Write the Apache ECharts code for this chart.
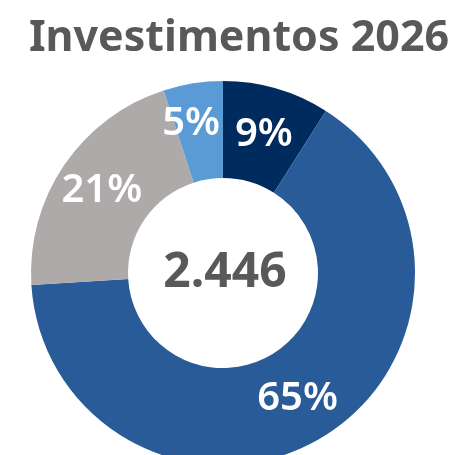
<!DOCTYPE html>
<html>
<head>
<meta charset="utf-8">
<script src="https://cdn.jsdelivr.net/npm/echarts@6/dist/echarts.min.js"></script>
<style>
  html, body { margin: 0; padding: 0; background: #fff; }
  #chart { width: 470px; height: 455px; }
</style>
</head>
<body>
<div id="chart"></div>
<script>
// Investment split for 2026 (share of total, %)
const categories = ['Categoria A', 'Categoria B', 'Categoria C', 'Categoria D'];
const shares = [9, 65, 21, 5];
const sliceColors = ['#002B5E', '#2A5B99', '#AEAAAA', '#5B9BD5'];
const totalLabel = '2.446';
const titleText = 'Investimentos 2026';

const chart = echarts.init(document.getElementById('chart'), null, { renderer: 'canvas' });

// the small last slice gets its label nudged up-left so it sits clear of the seam
const labelOffsets = [[0, 2], [0, 0], [0, 0], [-9, -5]];

const data = categories.map((name, i) => ({
  name: name,
  value: shares[i],
  itemStyle: { color: sliceColors[i] },
  label: { offset: labelOffsets[i] }
}));

chart.setOption({
  animation: false,
  title: [{
    text: titleText,
    left: 234,
    top: 12,
    textAlign: 'center',
    textStyle: {
      fontFamily: 'Noto Sans',
      fontWeight: 'bold',
      fontSize: 43,
      color: '#595959'
    }
  }, {
    text: totalLabel,
    left: 220,
    top: 244,
    textAlign: 'center',
    textStyle: {
      fontFamily: 'Noto Sans',
      fontWeight: 'bold',
      fontSize: 48,
      color: '#595959'
    }
  }],
  series: [{
    type: 'pie',
    center: [223, 273],
    radius: [95, 192],
    startAngle: 90,
    clockwise: true,
    avoidLabelOverlap: false,
    itemStyle: { borderWidth: 0 },
    label: {
      show: true,
      position: 'inside',
      formatter: p => p.value + '%',
      fontFamily: 'Noto Sans',
      fontWeight: 600,
      fontSize: 40,
      color: '#FFFFFF'
    },
    labelLine: { show: false },
    emphasis: { disabled: true },
    data: data
  }]
});
</script>
</body>
</html>
